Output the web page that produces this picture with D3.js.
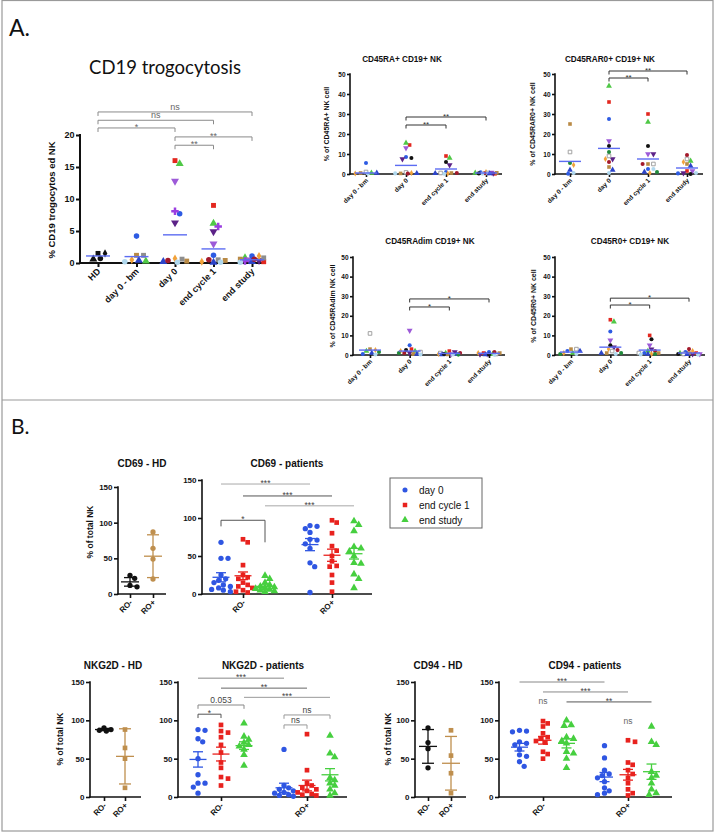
<!DOCTYPE html>
<html><head><meta charset="utf-8">
<script src="https://cdn.jsdelivr.net/npm/d3@7/dist/d3.min.js"></script>
<style>html,body{margin:0;padding:0;background:#fff}svg{display:block}</style>
</head><body>
<svg id="chart" width="719" height="832"></svg>
<script>
// ======================= DATA =======================
// ---- Section A: per-patient values (null = not measured) ----
const catsA1 = ["HD", "day 0 - bm", "day 0", "end cycle 1", "end study"];
const catsA = ["day 0 - bm", "day 0", "end cycle 1", "end study"];
const patientColors = ["#e3271f", "#4fc846", "#9d5ad8", "#2d5be3", "#9b3ee0", "#5c2287", "#b98a45",
                       "#f2a23a", "#8e8e8e", "#2c44c9", "#a3192b", "#b0d8ee", "#111111", "#208a3a"];
const patientShapes = ["square", "triangle", "down", "circle", "cross", "down", "square",
                       "diamond", "square", "triangle", "circle", "circle", "circle", "circle"];
const hdCd19 = [1.5, 0.6, 0.7, 1.5];
const hdCd19Shapes = ["square", "triangle", "circle", "diamond"];
const cd19Trogo = [
  [null, 0.3, null, 4.2, null, null, 1.2, 0.5, 1.2, 0.4, null, 0.2, null, null],
  [16.0, 15.5, 12.8, 7.7, 8.1, 6.3, 0.3, 0.7, 0.6, 0.2, 0.4, 0.1, null, null],
  [9.0, 6.2, 3.0, 1.2, 5.7, 4.9, 0.4, 0.2, 0.5, 0.1, 0.5, 0.1, null, null],
  [0.2, 0.8, 0.5, 1.1, 0.3, 0.4, 0.6, 1.1, 0.8, 0.2, 0.6, 0.1, null, null]
];
const cd19Means = [1.1, 1.0, 4.4, 2.2, 0.5];
const cd45raPos = [
  [null, 0.5, null, 5.5, null, null, 0.5, 0.3, 1.0, 0.5, null, 0.2, null, null],
  [14.5, 15.5, 13, 8.5, null, 7.5, 0.3, 0.5, 0.8, 0.3, 0.2, 0.3, 8.0, null],
  [9.0, 8.0, null, 1.0, null, 4.5, 0.5, 0.2, 0.5, 0.3, 0.5, 0.1, 6.0, null],
  [0.1, 0.5, 0.8, 0.8, null, 0.3, 0.6, 1.0, 0.5, 0.2, 0.4, 0.2, 0.3, null]
];
const cd45raPosMeans = [0.5, 4.3, 2.5, 0.5];
const cd45rar0Pos = [
  [null, null, null, 0.1, null, null, 25, 4.5, 11, 2, null, 0.5, null, 5.5],
  [36, 44, 16.5, 27.5, null, 7.5, 3.5, 7.5, 9, 2, 6, 0.5, 14, 11],
  [30, 26, 10, 2.5, null, 10, 5, 0.5, 5, 1, 5, 2.5, 14, 1],
  [1.5, 6.5, 1.5, 0.3, null, 0.5, 5, 6, 7.5, 4, 9.5, 0.5, 0, null]
];
const cd45rar0PosMeans = [6.3, 12.8, 7.5, 3.0];
const cd45raDim = [
  [null, 2, null, 0.5, null, null, 3, 2.5, 11, 1, null, 0.3, null, 1.5],
  [3, 2, 12.5, 5, null, 1, 0.5, 2, 1.5, 0.5, 1, 0.3, 2.5, 1],
  [2, 1, 0.5, 0.5, null, 1.5, 0.3, 0.5, 1, 0.2, 1, 0.3, 0.5, 0.2],
  [1, 0.5, 0.5, 1.5, null, 0.3, 1, 1, 0.5, 0.2, 1.5, 0.1, 0.3, null]
];
const cd45raDimMeans = [2.5, 2.0, 0.8, 0.8];
const cd45r0Pos = [
  [null, 1, null, 2, null, null, 3, 1, 3, 2, null, 0.5, null, 0.5],
  [18, 17, 7.5, 12, null, 4, 1, 3, 2, 1, 2.5, 0.5, 5, 1],
  [10, 2, 5, 1, null, 3, 1, 0.5, 1, 0.5, 2, 0.3, 8, 0.5],
  [1, 1, 0.5, 1.5, null, 0.5, 1, 2, 0.5, 0.3, 3, 0.2, 0.5, null]
];
const cd45r0PosMeans = [1.5, 4.0, 2.5, 1.0];
const ticksA1 = [0, 5, 10, 15, 20];
const ticksA = [0, 10, 20, 30, 40, 50];
// significance annotations (level in data units)
const sigA1 = [
  {a: "HD", b: "end study", v: 23.6, t: "ns"}, {a: "HD", b: "end cycle 1", v: 22.3, t: "ns"},
  {a: "HD", b: "day 0", v: 21.1, t: "*"}, {a: "day 0", b: "end study", v: 19.7, t: "**"},
  {a: "day 0", b: "end cycle 1", v: 18.4, t: "**"}];
const sigA2 = [{a: "day 0", b: "end study", v: 28.5, t: "**"}, {a: "day 0", b: "end cycle 1", v: 24.5, t: "**"}];
const sigA3 = [{a: "day 0", b: "end study", v: 51.5, t: "**"}, {a: "day 0", b: "end cycle 1", v: 48, t: "**"}];
const sigA4 = [{a: "day 0", b: "end study", v: 28.6, t: "*"}, {a: "day 0", b: "end cycle 1", v: 24.5, t: "*"}];
const sigA5 = [{a: "day 0", b: "end study", v: 29, t: "*"}, {a: "day 0", b: "end cycle 1", v: 25.5, t: "*"}];

// ---- Section B ----
const roCats = ["RO-", "RO+"];
const timepoints = ["day 0", "end cycle 1", "end study"];
const tpColors = ["#2f56e2", "#e8221e", "#46cf3f"];
const tpShapes = ["circle", "square", "triangle"];
const hdColors = ["#111111", "#bf8f4e"];
const ticksB = [0, 50, 100, 150];

const cd69HD = [[26, 22, 12, 10], [87, 64, 49, 21]];
const cd69HDMean = [17, 53], cd69HDErr = [6, 30];
const cd69Pat = [
  [[68, 47, 47, 25, 20, 18, 15, 12, 10, 8, 6, 5, 3],
   [72, 68, 38, 25, 22, 20, 15, 12, 10, 8, 5, 3, 2],
   [24, 20, 15, 12, 10, 9, 8, 7, 6, 5, 4, 3]],
  [[90, 89, 86, 81, 72, 71, 66, 60, 41, 36, 2],
   [97, 94, 80, 63, 57, 50, 43, 37, 36, 25, 15, 3],
   [96, 91, 83, 62, 60, 56, 50, 41, 40, 26, 20, 8]]];
const cd69PatMean = [[22, 24, 10], [65, 51, 53]];
const cd69PatErr = [[6, 5, 2], [8, 8, 7]];

const nkg2dHD = [[90, 88, 87, 86], [88, 64, 50, 12]];
const nkg2dHDMean = [88, 53], nkg2dHDErr = [1.5, 36];
const nkg2dPat = [
  [[88, 87, 76, 72, 50, 29, 18, 18, 13, 5],
   [94, 86, 84, 78, 68, 58, 45, 38, 26, 24, 15],
   [96, 79, 75, 71, 68, 66, 62, 55, 41]],
  [[62, 15, 12, 10, 8, 6, 5, 3, 2, 1],
   [82, 35, 18, 15, 12, 10, 8, 6, 4, 3, 2],
   [80, 57, 52, 25, 22, 18, 15, 10, 5, 2]]];
const nkg2dPatMean = [[49, 56, 67], [12, 15, 29]];
const nkg2dPatErr = [[10, 9, 5], [6, 7, 8]];

const cd94HD = [[90, 71, 63, 38], [87, 54, 31, 5]];
const cd94HDMean = [66, 44], cd94HDErr = [22, 35];
const cd94Pat = [
  [[87, 86, 85, 72, 70, 68, 62, 55, 53, 46, 40],
   [99, 96, 92, 83, 78, 76, 73, 71, 59, 56, 50],
   [100, 94, 93, 78, 76, 73, 70, 59, 57, 50, 38]],
  [[67, 51, 35, 30, 28, 25, 20, 12, 8, 5, 3],
   [74, 72, 45, 42, 35, 30, 25, 18, 10, 5, 2],
   [92, 72, 68, 33, 28, 25, 18, 10, 5, 3]]];
const cd94PatMean = [[65, 74, 70], [26, 29, 33]];
const cd94PatErr = [[5, 5, 6], [6, 7, 10]];

// significance: a/b = [ro index, timepoint index]
const sigCd69 = [
  {a: [0, 0], b: [1, 0], v: 144.7, t: "***", c: "#a8a8a8"},
  {a: [0, 1], b: [1, 1], v: 129, t: "***", c: "#555"},
  {a: [0, 2], b: [1, 2], v: 116, t: "***", c: "#a8a8a8"},
  {a: [0, 0], b: [0, 2], v: 97, t: "*", c: "#555", dA: 89, dB: 68}];
const sigNkg2d = [
  {a: [0, 0], b: [1, 0], v: 155, t: "***", c: "#888"},
  {a: [0, 1], b: [1, 1], v: 142, t: "**", c: "#666"},
  {a: [0, 2], b: [1, 2], v: 130, t: "***", c: "#999"},
  {a: [0, 0], b: [0, 2], v: 120, t: "0.053", c: "#888", dA: 115, dB: 115},
  {a: [0, 0], b: [0, 1], v: 108, t: "*", c: "#555", dA: 103, dB: 103},
  {a: [1, 0], b: [1, 2], v: 107, t: "ns", c: "#999", dA: 102, dB: 102},
  {a: [1, 0], b: [1, 1], v: 94, t: "ns", c: "#999", dA: 89, dB: 89}];
const sigCd94 = [
  {a: [0, 0], b: [1, 0], v: 150, t: "***", c: "#888"},
  {a: [0, 1], b: [1, 1], v: 137, t: "***", c: "#888"},
  {a: [0, 2], b: [1, 2], v: 124, t: "**", c: "#555"}];
const nsCd94 = [{at: [0, 1], v: 121, t: "ns"}, {at: [1, 1], v: 95, t: "ns"}];

// ======================= DRAWING =======================
const svg = d3.select("#chart");
const F = "'Liberation Sans', Arial, Helvetica, sans-serif";
const SYM = {square: d3.symbolSquare, triangle: d3.symbolTriangle, down: d3.symbolTriangle,
             circle: d3.symbolCircle, diamond: d3.symbolDiamond, cross: d3.symbolCross};
const SSC = {square: 1.0, triangle: 1.15, down: 1.15, circle: 1.0, diamond: 0.8, cross: 1.3};

function drawSym(g, shape, cx, cy, size, color, hollow) {
  g.append("path").attr("d", d3.symbol().type(SYM[shape]).size(size * SSC[shape])())
    .attr("transform", `translate(${cx},${cy})` + (shape === "down" ? " rotate(180)" : ""))
    .attr("fill", hollow ? "#fff" : color)
    .attr("stroke", hollow ? "#999" : "none").attr("stroke-width", hollow ? 0.9 : 0);
}
function swarm(ys, r, maxW) {
  const order = ys.map((_, i) => i).sort((a, b) => ys[a] - ys[b]);
  const placed = [], off = new Array(ys.length).fill(0), step = r * 0.9;
  for (const i of order) {
    let best = 0, bestD = -1;
    for (let t = 0; t < 80; t++) {
      const o = t === 0 ? 0 : (t % 2 ? 1 : -1) * Math.ceil(t / 2) * step;
      if (Math.abs(o) > maxW) break;
      let md = Infinity;
      for (const p of placed) md = Math.min(md, Math.hypot(p.x - o, p.y - ys[i]));
      if (md >= 2 * r) { best = o; bestD = md; break; }
      if (md > bestD) { bestD = md; best = o; }
    }
    off[i] = best; placed.push({x: best, y: ys[i]});
  }
  return off;
}
function txt(g, x, y, s, o = {}) {
  return g.append("text").attr("x", x).attr("y", y).text(s)
    .attr("font-family", o.ff || F).attr("font-size", o.fs || 9)
    .attr("font-weight", o.fw || "normal").attr("fill", o.fill || "#111")
    .attr("text-anchor", o.anchor || "middle");
}
function rotLabel(g, x, y, s, fs) {
  g.append("text").attr("transform", `translate(${x},${y}) rotate(-90)`).attr("text-anchor", "middle")
    .attr("dominant-baseline", "middle")
    .attr("font-family", F).attr("font-weight", "bold").attr("font-size", fs).attr("fill", "#111").text(s);
}
function yAxis(g, y, x0, ticks, fs, sw, tk) {
  const a = g.append("g").attr("transform", `translate(${x0},0)`)
    .call(d3.axisLeft(y).tickValues(ticks).tickSize(tk).tickPadding(1.5).tickSizeOuter(0));
  a.select(".domain").remove();
  a.selectAll(".tick line").attr("stroke", "#111").attr("stroke-width", sw);
  a.selectAll(".tick text").attr("font-family", F).attr("font-weight", "bold").attr("font-size", fs).attr("fill", "#111");
  const [r0, r1] = y.range();
  g.append("line").attr("x1", x0).attr("x2", x0).attr("y1", r0 + sw / 2).attr("y2", r1 - sw / 2)
    .attr("stroke", "#111").attr("stroke-width", sw);
}
function xAxis(g, x, y0, x0, x1, labels, fs, sw, tk, lx, ly) {
  g.append("line").attr("x1", x0).attr("x2", x1).attr("y1", y0).attr("y2", y0)
    .attr("stroke", "#111").attr("stroke-width", sw);
  const a = g.append("g").attr("transform", `translate(0,${y0})`)
    .call(d3.axisBottom(x).tickSize(tk).tickFormat(""));
  a.select(".domain").remove();
  a.selectAll(".tick line").attr("stroke", "#111").attr("stroke-width", sw);
  g.selectAll(null).data(labels).join("text")
    .attr("transform", d => `translate(${x(d) + lx},${y0 + ly}) rotate(-45)`)
    .attr("text-anchor", "end").attr("font-family", F).attr("font-weight", "bold")
    .attr("font-size", fs).attr("fill", "#111").text(d => d);
}
function bracket(g, xa, xb, yl, label, o) {
  const col = o.color || "#888";
  g.append("line").attr("x1", xa).attr("x2", xb).attr("y1", yl).attr("y2", yl)
    .attr("stroke", col).attr("stroke-width", o.sw || 1);
  if (o.dA != null) g.append("line").attr("x1", xa).attr("x2", xa).attr("y1", yl).attr("y2", o.dA)
    .attr("stroke", col).attr("stroke-width", o.sw || 1);
  if (o.dB != null) g.append("line").attr("x1", xb).attr("x2", xb).attr("y1", yl).attr("y2", o.dB)
    .attr("stroke", col).attr("stroke-width", o.sw || 1);
  const star = /^\*+$/.test(label);
  txt(g, (xa + xb) / 2, yl + (star ? o.fs * 0.2 : -o.fs * 0.25), label, {fs: o.fs, fill: o.tcol || "#444"});
}

// ---------- frame ----------
svg.append("rect").attr("x", 2).attr("y", 0.5).attr("width", 711).attr("height", 830.5)
  .attr("fill", "none").attr("stroke", "#9a9a9a").attr("stroke-width", 1.2);
svg.append("line").attr("x1", 2).attr("x2", 713).attr("y1", 400).attr("y2", 400)
  .attr("stroke", "#9a9a9a").attr("stroke-width", 1.2);
txt(svg, 9, 36, "A.", {ff: "Lato, 'Open Sans', sans-serif", fs: 23, anchor: "start"});
txt(svg, 11, 434, "B.", {ff: "Lato, 'Open Sans', sans-serif", fs: 21, anchor: "start"});

// ---------- Section A panels ----------
function panelA(p) {
  const g = svg.append("g");
  const y = d3.scaleLinear().domain([0, p.max]).range([p.y0, p.yTop]);
  const x = d3.scalePoint().domain(p.cats).range(p.xr);
  yAxis(g, y, p.ax, p.ticks, p.tfs, p.sw, p.tk);
  xAxis(g, x, p.y0, p.ax - p.sw / 2, p.axEnd, p.cats, p.xfs, p.sw, p.tk, p.lx, p.ly);
  txt(g, p.title[0], p.title[1], p.title[2], p.titleStyle);
  rotLabel(g, p.yl[0], p.yl[1], p.yl[2], p.ylfs);
  p.sig.forEach(b => bracket(g, x(b.a), x(b.b), y(b.v), b.t,
    {color: p.bcol, dA: y(b.v) + p.drop, dB: y(b.v) + p.drop, fs: p.bfs, tcol: p.btcol}));
  p.groups.forEach(gr => {
    const cx = x(gr.cat);
    const pts = gr.values.map((v, i) => ({v, c: gr.colors[i], s: gr.shapes[i], h: gr.hollow ? gr.hollow[i] : false}))
      .filter(d => d.v != null);
    const ys = pts.map(d => y(d.v));
    const off = swarm(ys, p.r, p.maxW);
    pts.forEach((d, i) => drawSym(g, d.s, cx + off[i], ys[i], p.size, d.c, d.h));
  });
  p.means.forEach((m, i) => g.append("line")
    .attr("x1", x(p.cats[i]) - p.mw).attr("x2", x(p.cats[i]) + p.mw)
    .attr("y1", y(m)).attr("y2", y(m)).attr("stroke", "#5c6cf2").attr("stroke-width", 1.4));
}
function patientGroups(cats, values, hollowGray) {
  return values.map((vals, ci) => ({
    cat: cats[ci], values: vals, colors: patientColors, shapes: patientShapes,
    hollow: patientShapes.map((s, i) => hollowGray && i === 8)
  }));
}

panelA({
  cats: catsA1, max: 20, y0: 263, yTop: 135, ax: 80, axEnd: 262, xr: [98, 252], ticks: ticksA1,
  tfs: 9, xfs: 9, sw: 2, tk: 4, lx: 3, ly: 9,
  title: [165, 74, "CD19 trogocytosis"], titleStyle: {ff: "Lato, 'Open Sans', sans-serif", fs: 18.5},
  yl: [52, 200, "% CD19 trogocytos ed NK"], ylfs: 9.5,
  sig: sigA1, bcol: "#8a8a8a", btcol: "#666", drop: 4, bfs: 9,
  groups: [{cat: "HD", values: hdCd19, colors: hdCd19.map(() => "#111"), shapes: hdCd19Shapes}]
    .concat(patientGroups(catsA, cd19Trogo, false)),
  means: cd19Means, r: 2.6, size: 24, maxW: 13, mw: 12
});
const smallA = {max: 50, ticks: ticksA, tfs: 6.5, xfs: 6.5, sw: 1.6, tk: 3, lx: 2.5, ly: 7,
  titleStyle: {fs: 8.2, fw: "bold"}, ylfs: 7, bcol: "#333", btcol: "#333", drop: 3.5, bfs: 8,
  r: 2.0, size: 13, maxW: 12, mw: 11, cats: catsA};
panelA(Object.assign({}, smallA, {
  y0: 174, yTop: 74, ax: 350, axEnd: 502, xr: [366, 486],
  title: [402, 62, "CD45RA+ CD19+ NK"], yl: [327, 124, "% of CD45RA+ NK cell"],
  sig: sigA2, groups: patientGroups(catsA, cd45raPos, true), means: cd45raPosMeans}));
panelA(Object.assign({}, smallA, {
  y0: 174, yTop: 74, ax: 555, axEnd: 703, xr: [570, 687],
  title: [610, 62, "CD45RAR0+ CD19+ NK"], yl: [533, 124, "% of CD45RAR0+ NK cell"],
  sig: sigA3, groups: patientGroups(catsA, cd45rar0Pos, true), means: cd45rar0PosMeans}));
panelA(Object.assign({}, smallA, {
  y0: 355, yTop: 257, ax: 353, axEnd: 505, xr: [370, 489],
  title: [430, 244, "CD45RAdim CD19+ NK"], yl: [333, 306, "% of CD45RAdim NK cell"],
  sig: sigA4, groups: patientGroups(catsA, cd45raDim, true), means: cd45raDimMeans}));
panelA(Object.assign({}, smallA, {
  y0: 355, yTop: 257, ax: 555, axEnd: 705, xr: [571, 689],
  title: [630, 244, "CD45R0+ CD19+ NK"], yl: [534, 306, "% of CD45R0+ NK cell"],
  sig: sigA5, groups: patientGroups(catsA, cd45r0Pos, true), means: cd45r0PosMeans}));

// ---------- Section B panels ----------
function panelB(p) {
  const g = svg.append("g");
  const y = d3.scaleLinear().domain([0, 150]).range([p.y0, p.y150]);
  const x = d3.scalePoint().domain(roCats).range(p.xr);
  yAxis(g, y, p.ax, ticksB, 8, 1.6, 4);
  xAxis(g, x, p.y0, p.ax - 0.8, p.axEnd, roCats, 8, 1.6, 4, 3, 9);
  txt(g, p.title[0], p.title[1], p.title[2], {fs: 10, fw: "bold"});
  if (p.yl) rotLabel(g, p.yl[0], p.yl[1], p.yl[2], 8.5);
  const gx = (ri, ti) => x(roCats[ri]) + (ti - 1) * p.gs;
  (p.sig || []).forEach(b => bracket(g, gx(...b.a), gx(...b.b), y(b.v), b.t,
    {color: b.c, dA: b.dA != null ? y(b.dA) : null, dB: b.dB != null ? y(b.dB) : null, fs: 8.5, tcol: "#444"}));
  (p.ns || []).forEach(n => txt(g, gx(...n.at), y(n.v), n.t, {fs: 8.5, fill: "#666"}));
  p.groups.forEach(gr => {
    const cx = x(gr.cat) + gr.dx;
    const ys = gr.values.map(v => y(v));
    const off = swarm(ys, p.r, p.maxW);
    ys.forEach((yy, i) => drawSym(g, gr.shape, cx + off[i], yy, p.size, gr.color));
    const ym = y(gr.mean), yt = y(gr.mean + gr.err), yb = y(Math.max(0, gr.mean - gr.err));
    const L = (x1, x2, y1, y2) => g.append("line").attr("x1", x1).attr("x2", x2).attr("y1", y1).attr("y2", y2)
      .attr("stroke", gr.color).attr("stroke-width", 1.3);
    L(cx, cx, yt, yb); L(cx - p.cw, cx + p.cw, yt, yt); L(cx - p.cw, cx + p.cw, yb, yb);
    L(cx - p.mw, cx + p.mw, ym, ym);
  });
}
function hdGroups(vals, means, errs, shapes) {
  return roCats.map((c, ri) => ({cat: c, dx: 0, values: vals[ri], mean: means[ri], err: errs[ri],
    color: hdColors[ri], shape: shapes[ri]}));
}
function patGroups(vals, means, errs, gs) {
  const out = [];
  roCats.forEach((c, ri) => timepoints.forEach((t, ti) => out.push({cat: c, dx: (ti - 1) * gs, values: vals[ri][ti],
    mean: means[ri][ti], err: errs[ri][ti], color: tpColors[ti], shape: tpShapes[ti]})));
  return out;
}
const hdOpt = {r: 2.6, size: 22, maxW: 9, cw: 6, mw: 9, gs: 0};
const patOpt = {r: 2.6, size: 22, maxW: 10, cw: 5, mw: 8.5};

panelB(Object.assign({}, hdOpt, {ax: 118, axEnd: 166, y0: 594, y150: 487, xr: [130, 153],
  title: [142, 467, "CD69 - HD"], yl: [91, 532, "% of total NK"],
  groups: hdGroups(cd69HD, cd69HDMean, cd69HDErr, ["circle", "circle"])}));
panelB(Object.assign({}, patOpt, {ax: 202, axEnd: 372, y0: 594, y150: 480, xr: [243, 332], gs: 22,
  title: [287, 467, "CD69 - patients"], sig: sigCd69,
  groups: patGroups(cd69Pat, cd69PatMean, cd69PatErr, 22)}));
panelB(Object.assign({}, hdOpt, {ax: 90, axEnd: 141, y0: 797, y150: 682, xr: [104, 125],
  title: [113, 669, "NKG2D - HD"], yl: [61, 739, "% of total NK"],
  groups: hdGroups(nkg2dHD, nkg2dHDMean, nkg2dHDErr, ["circle", "square"])}));
panelB(Object.assign({}, patOpt, {ax: 178, axEnd: 347, y0: 797, y150: 682, xr: [221, 307], gs: 23,
  title: [263, 669, "NKG2D - patients"], sig: sigNkg2d,
  groups: patGroups(nkg2dPat, nkg2dPatMean, nkg2dPatErr, 23)}));
panelB(Object.assign({}, hdOpt, {ax: 415, axEnd: 466, y0: 797, y150: 682, xr: [428, 451],
  title: [438, 669, "CD94 - HD"], yl: [389, 739, "% of total NK"],
  groups: hdGroups(cd94HD, cd94HDMean, cd94HDErr, ["circle", "square"])}));
panelB(Object.assign({}, patOpt, {ax: 499, axEnd: 672, y0: 797, y150: 682, xr: [543, 628], gs: 23.5,
  title: [585, 669, "CD94 - patients"], sig: sigCd94, ns: nsCd94,
  groups: patGroups(cd94Pat, cd94PatMean, cd94PatErr, 23.5)}));

// ---------- legend ----------
const lg = svg.append("g");
lg.append("rect").attr("x", 390).attr("y", 478).attr("width", 92).attr("height", 50)
  .attr("fill", "#fff").attr("stroke", "#666").attr("stroke-width", 1);
timepoints.forEach((t, i) => {
  drawSym(lg, tpShapes[i], 405, 490 + i * 15, 20, tpColors[i]);
  txt(lg, 419, 493.5 + i * 15, t, {fs: 10, anchor: "start"});
});
</script>
</body></html>
